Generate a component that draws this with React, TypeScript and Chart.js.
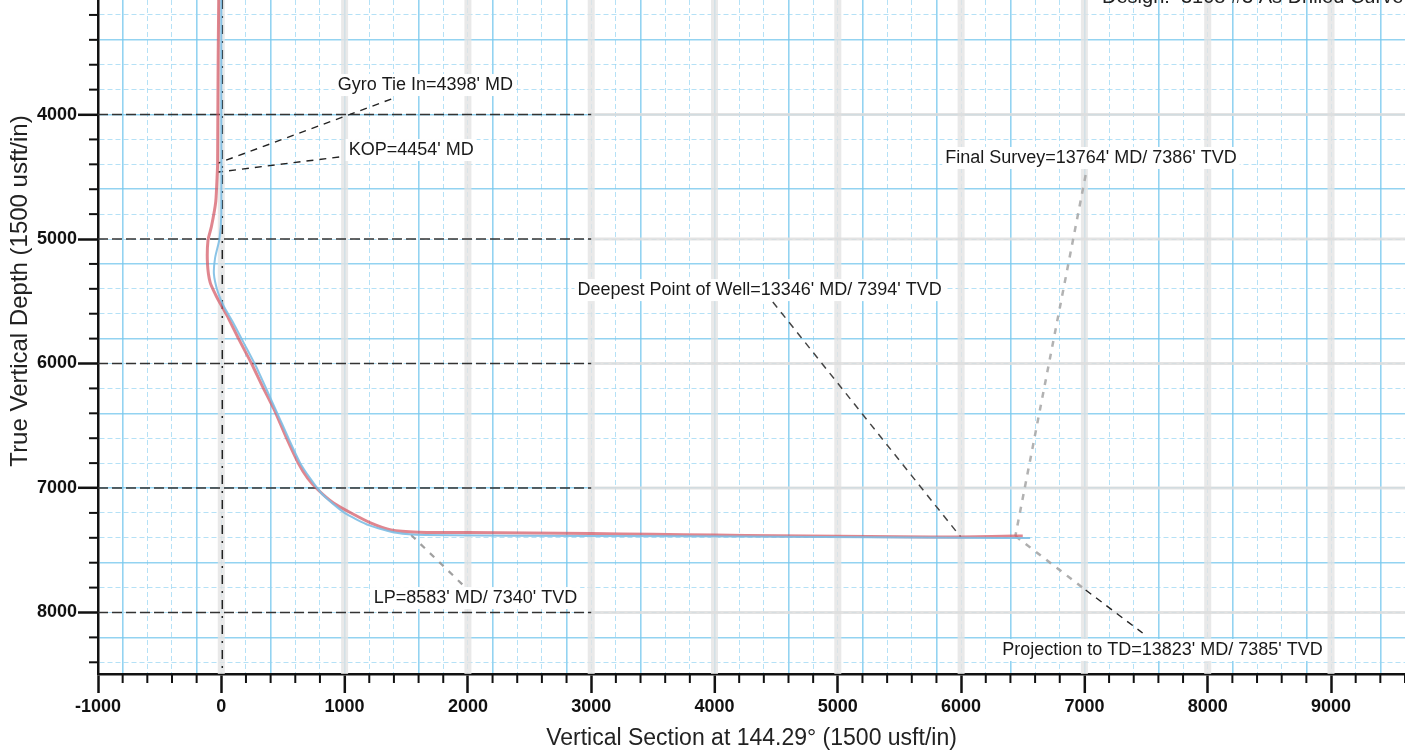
import React, { useEffect, useRef } from 'react';
import { Chart, registerables } from 'chart.js';

Chart.register(...registerables);

const FONT = "'Liberation Sans', Arial, Helvetica, sans-serif";

// Actual (as drilled) well path: vertical section (usft) and TVD (usft)
const actualVS = [-20, -25, -28, -30, -32, -45, -80, -108, -112, -90, -35, 10, 60, 140, 243, 335, 430, 525, 624, 700, 786, 910, 1053, 1210, 1377, 1596, 2000, 2500, 3000, 3500, 4000, 4500, 5000, 5500, 6000, 6250, 6440, 6500];
const actualTVD = [3000, 3500, 4000, 4398, 4454, 4700, 4900, 5010, 5200, 5350, 5470, 5550, 5640, 5800, 5996, 6185, 6373, 6590, 6799, 6920, 7016, 7120, 7201, 7280, 7337, 7355, 7358, 7362, 7366, 7372, 7378, 7383, 7388, 7391, 7394, 7390, 7386, 7385];

// Plan path
const planVS = [0, 0, 0, -15, -50, -60, -30, 20, 90, 180, 280, 450, 640, 810, 1000, 1200, 1420, 1650, 3000, 4500, 6000, 6560];
const planTVD = [3000, 4000, 4800, 5000, 5150, 5280, 5420, 5540, 5660, 5830, 6020, 6390, 6800, 7040, 7200, 7300, 7360, 7378, 7385, 7392, 7400, 7402];

// Leader lines (label end -> well point)
const gyroLeaderVS = [1378, -24];
const gyroLeaderTVD = [3876, 4390];
const kopLeaderVS = [956, -24];
const kopLeaderTVD = [4341, 4462];
const deepestLeaderVS = [4473, 5997];
const deepestLeaderTVD = [5506, 7394];
const finalLeaderVS = [7010, 6440];
const finalLeaderTVD = [4486, 7386];
const projLeaderFadedVS = [6440, 7010];
const projLeaderFadedTVD = [7386, 7819];
const projLeaderVS = [7010, 7472];
const projLeaderTVD = [7819, 8165];
const lpLeaderVS = [1540, 1985];
const lpLeaderTVD = [7378, 7803];

// Annotation labels
const labelTexts = [
  "Gyro Tie In=4398' MD",
  "KOP=4454' MD",
  "Final Survey=13764' MD/ 7386' TVD",
  "Deepest Point of Well=13346' MD/ 7394' TVD",
  "LP=8583' MD/ 7340' TVD",
  "Projection to TD=13823' MD/ 7385' TVD",
];
const labelVS = [944, 1033, 5871, 2889, 1236, 6333];
const labelTVD = [3763, 4285, 4349, 5410, 7884, 8301];

// Axes
const xMin = -1000;
const xMax = 9600;
const yMin = 3080;
const yMax = 8494;
const xTickValues: number[] = [];
for (let v = -1000; v <= 9600; v += 200) xTickValues.push(v);
const yTickValues: number[] = [];
for (let v = 3200; v <= 8400; v += 200) yTickValues.push(v);
const majorVS = [0, 1000, 2000, 3000, 4000, 5000, 6000, 7000, 8000, 9000];
const majorTVD = [4000, 5000, 6000, 7000, 8000];

const xTitle = 'Vertical Section at 144.29° (1500 usft/in)';
const yTitle = 'True Vertical Depth (1500 usft/in)';
const designText = 'Design:  3108 #3 As Drilled Curve';

const pts = (xs: number[], ys: number[]) => xs.map((x, i) => ({ x, y: ys[i] }));

const isStrong = (v: number) => ((v % 600) + 600) % 600 === 400;
const gridColor = (ctx: any) =>
  ctx.tick && isStrong(ctx.tick.value) ? 'rgba(120,200,238,0.8)' : 'rgba(150,212,242,0.7)';
const gridWidth = (ctx: any) => (ctx.tick && isStrong(ctx.tick.value) ? 1.6 : 1);
const gridDash = (ctx: any) => (ctx.tick && !isStrong(ctx.tick.value) ? [5, 3] : []);
const tickColor = (ctx: any) =>
  ctx.tick && ctx.tick.value % 1000 === 0 ? '#111' : 'rgba(0,0,0,0)';

export default function App() {
  const ref = useRef<HTMLCanvasElement>(null);

  useEffect(() => {
    const canvas = ref.current!;

    const leader = (xs: number[], ys: number[], color: string, width: number, dash: number[]) => ({
      data: pts(xs, ys),
      showLine: true,
      borderColor: color,
      borderWidth: width,
      borderDash: dash,
      pointRadius: 0,
      fill: false,
    });

    const decor = {
      id: 'decor',
      beforeDatasetsDraw(chart: any) {
        const { ctx, chartArea } = chart;
        const xs = chart.scales.x;
        const ys = chart.scales.y;
        ctx.save();
        ctx.beginPath();
        ctx.rect(chartArea.left, chartArea.top, chartArea.right - chartArea.left, chartArea.bottom - chartArea.top);
        ctx.clip();
        // faint gray verticals at every 1000
        ctx.strokeStyle = 'rgba(228,228,228,0.8)';
        ctx.lineWidth = 7;
        majorVS.forEach((v) => {
          const px = xs.getPixelForValue(v);
          ctx.beginPath();
          ctx.moveTo(px, chartArea.top);
          ctx.lineTo(px, chartArea.bottom);
          ctx.stroke();
        });
        // dashed horizontals at every 1000 TVD
        majorTVD.forEach((t) => {
          const py = ys.getPixelForValue(t);
          const split = xs.getPixelForValue(3000);
          ctx.strokeStyle = 'rgba(222,222,222,0.85)';
          ctx.lineWidth = 3;
          ctx.setLineDash([]);
          ctx.beginPath();
          ctx.moveTo(split, py);
          ctx.lineTo(chartArea.right, py);
          ctx.stroke();
          ctx.strokeStyle = '#333';
          ctx.lineWidth = 1.5;
          ctx.setLineDash([10, 4]);
          ctx.beginPath();
          ctx.moveTo(chartArea.left, py);
          ctx.lineTo(split, py);
          ctx.stroke();
        });
        // dash-dot line at VS 0
        const x0 = xs.getPixelForValue(0);
        ctx.strokeStyle = '#222';
        ctx.lineWidth = 1.5;
        ctx.setLineDash([9, 7, 2, 7]);
        ctx.beginPath();
        ctx.moveTo(x0 + 1, chartArea.top);
        ctx.lineTo(x0 + 1, chartArea.bottom);
        ctx.stroke();
        ctx.restore();
      },
      afterDatasetsDraw(chart: any) {
        const { ctx } = chart;
        const xs = chart.scales.x;
        const ys = chart.scales.y;
        ctx.save();
        ctx.font = `18px ${FONT}`;
        ctx.textBaseline = 'middle';
        ctx.textAlign = 'left';
        labelTexts.forEach((t, i) => {
          const px = xs.getPixelForValue(labelVS[i]);
          const py = ys.getPixelForValue(labelTVD[i]);
          const w = ctx.measureText(t).width;
          ctx.fillStyle = '#fff';
          ctx.fillRect(px - 3, py - 11, w + 6, 22);
          ctx.fillStyle = '#1a1a1a';
          ctx.fillText(t, px, py);
        });
        ctx.restore();
      },
      afterDraw(chart: any) {
        const { ctx, chartArea } = chart;
        const xs = chart.scales.x;
        const ys = chart.scales.y;
        ctx.save();
        // minor ticks
        ctx.strokeStyle = '#111';
        ctx.lineWidth = 2;
        xTickValues.forEach((v) => {
          if (v % 1000 === 0) return;
          const px = xs.getPixelForValue(v);
          ctx.beginPath();
          ctx.moveTo(px, chartArea.bottom);
          ctx.lineTo(px, chartArea.bottom + 9);
          ctx.stroke();
        });
        yTickValues.forEach((v) => {
          if (v % 1000 === 0) return;
          const py = ys.getPixelForValue(v);
          ctx.beginPath();
          ctx.moveTo(chartArea.left, py);
          ctx.lineTo(chartArea.left - 9, py);
          ctx.stroke();
        });
        // y axis title
        ctx.fillStyle = '#222';
        ctx.font = `24px ${FONT}`;
        ctx.textAlign = 'center';
        ctx.textBaseline = 'middle';
        ctx.translate(20, 291);
        ctx.rotate(-Math.PI / 2);
        ctx.fillText(yTitle, 0, 0);
        ctx.restore();
        // design text (cropped at top)
        ctx.save();
        ctx.fillStyle = '#222';
        ctx.font = `20px ${FONT}`;
        ctx.textAlign = 'left';
        ctx.textBaseline = 'alphabetic';
        ctx.fillText(designText, 1102, 3);
        ctx.restore();
      },
    };

    const chart = new Chart(canvas, {
      type: 'scatter',
      data: {
        datasets: [
          {
            data: pts(planVS, planTVD),
            showLine: true,
            borderColor: 'rgba(125,190,228,0.9)',
            borderWidth: 2,
            pointRadius: 0,
            tension: 0.2,
          },
          {
            data: pts(actualVS, actualTVD),
            showLine: true,
            borderColor: 'rgba(212,88,100,0.72)',
            borderWidth: 3,
            pointRadius: 0,
            tension: 0.2,
          },
          leader(gyroLeaderVS, gyroLeaderTVD, '#222', 1.4, [7, 6]),
          leader(kopLeaderVS, kopLeaderTVD, '#222', 1.4, [7, 6]),
          leader(deepestLeaderVS, deepestLeaderTVD, '#444', 1.5, [7, 6]),
          leader(finalLeaderVS, finalLeaderTVD, 'rgba(170,170,170,0.9)', 2.5, [6, 7]),
          leader(projLeaderFadedVS, projLeaderFadedTVD, 'rgba(165,165,165,0.9)', 2.5, [6, 7]),
          leader(projLeaderVS, projLeaderTVD, '#222', 1.4, [7, 6]),
          leader(lpLeaderVS, lpLeaderTVD, 'rgba(150,150,150,0.9)', 2.2, [6, 7]),
        ],
      },
      options: {
        responsive: false,
        animation: false,
        layout: { padding: 0 },
        plugins: {
          legend: { display: false },
          tooltip: { enabled: false },
        },
        scales: {
          x: {
            type: 'linear',
            position: 'bottom',
            min: xMin,
            max: xMax,
            afterBuildTicks: (s: any) => {
              s.ticks = xTickValues.map((value) => ({ value }));
            },
            afterFit: (s: any) => {
              s.height = 82;
              s.paddingLeft = 0;
              s.paddingRight = 0;
            },
            ticks: {
              autoSkip: false,
              maxRotation: 0,
              minRotation: 0,
              padding: 3,
              color: '#111',
              font: { family: FONT, size: 18, weight: 'bold' },
              callback: (v: any) => (Number(v) % 1000 === 0 ? String(v) : ''),
            },
            grid: {
              color: gridColor,
              lineWidth: gridWidth,
              tickLength: 19,
              tickWidth: 2.5,
              tickColor: tickColor,
            },
            border: { display: true, color: '#111', width: 2.5, dash: gridDash },
            title: {
              display: true,
              text: xTitle,
              color: '#222',
              font: { family: FONT, size: 23 },
              padding: { top: 0, bottom: 4 },
            },
          },
          y: {
            type: 'linear',
            position: 'left',
            reverse: true,
            min: yMin,
            max: yMax,
            afterBuildTicks: (s: any) => {
              s.ticks = yTickValues.map((value) => ({ value }));
            },
            afterFit: (s: any) => {
              s.width = 98;
              s.paddingTop = 0;
              s.paddingBottom = 0;
            },
            ticks: {
              autoSkip: false,
              padding: 1,
              color: '#111',
              font: { family: FONT, size: 18, weight: 'bold' },
              callback: (v: any) => (Number(v) % 1000 === 0 ? String(v) : ''),
            },
            grid: {
              color: gridColor,
              lineWidth: gridWidth,
              tickLength: 20,
              tickWidth: 2.5,
              tickColor: tickColor,
            },
            border: { display: true, color: '#111', width: 2.5, dash: gridDash },
            title: { display: false },
          },
        },
      },
      plugins: [decor],
    } as any);

    return () => chart.destroy();
  }, []);

  return (
    <div style={{ position: 'fixed', left: 0, top: 0, width: 1405, height: 756, background: '#fff' }}>
      <canvas ref={ref} width={1405} height={756} style={{ width: 1405, height: 756, display: 'block' }} />
    </div>
  );
}
